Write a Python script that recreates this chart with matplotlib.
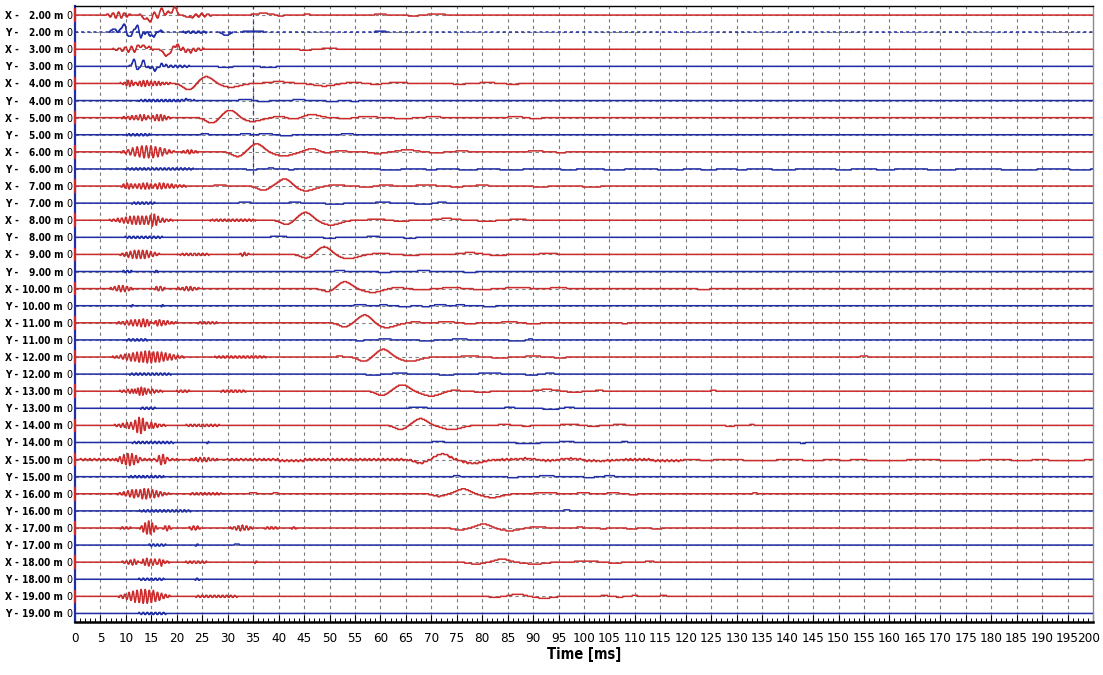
import os
import numpy as np
import matplotlib.pyplot as plt
import matplotlib.transforms as mtransforms
from matplotlib import font_manager
from matplotlib.font_manager import FontProperties
from matplotlib.transforms import blended_transform_factory

T_END = 200.0          # ms
DT = 0.05              # ms
Q = 1 / 17.1           # digitiser step, in trace spacings

offsets = list(range(2, 20))          # receiver distance [m]
components = ['X', 'Y']

# main surface-wave arrival on the X components (time ms, amplitude in trace spacings)
sw_offsets = [4, 5, 6, 7, 8, 9, 10, 11, 12, 13, 14, 15, 16, 17, 18, 19]
sw_lead_t = [22.4, 26.9, 32.0, 37.0, 41.6, 45.5, 49.8, 53.0, 56.8, 60.3, 64.0, 67.9, 71.5, 75.6, 79.0, 82.5]
sw_lead_a = [-0.38, -0.33, -0.28, -0.25, -0.25, -0.22, -0.18, -0.24, -0.26, -0.25, -0.24, -0.20, -0.15, -0.12, -0.05, -0.05]
sw_peak_t = [25.8, 30.5, 35.7, 41.3, 45.3, 49.0, 53.0, 57.0, 60.6, 64.3, 67.9, 72.2, 76.3, 80.3, 83.9, 87.0]
sw_peak_a = [0.40, 0.45, 0.47, 0.43, 0.46, 0.45, 0.40, 0.47, 0.45, 0.38, 0.39, 0.33, 0.28, 0.23, 0.18, 0.13]
sw_tail_t = [30.6, 34.8, 41.0, 45.3, 50.3, 53.7, 58.5, 61.2, 65.8, 70.0, 74.0, 78.3, 82.0, 85.4, 90.0, 92.0]
sw_tail_a = [-0.22, -0.22, -0.24, -0.28, -0.28, -0.25, -0.22, -0.28, -0.26, -0.28, -0.25, -0.22, -0.22, -0.16, -0.05, -0.05]

# high-frequency wave packets: (start ms, end ms, amplitude, period ms)
packets = {
    'X2': [(5, 12, 0.18, 1.1), (11, 22, 0.2, 1.4), (21, 28.5, 0.1, 1.2)],
    'Y2': [(5, 20, 0.08, 0.9), (19, 28, 0.06, 1.0)],
    'X3': [(6, 17, 0.17, 1.2), (16, 27.5, 0.12, 1.0)],
    'Y3': [(6, 27, 0.08, 0.9)],
    'X4': [(6.5, 21, 0.15, 0.75), (8.5, 13.5, 0.1, 0.6)],
    'Y4': [(8, 28, 0.07, 0.8)],
    'X5': [(7, 21, 0.16, 0.8), (12.5, 19.5, 0.12, 0.7)],
    'Y5': [(8, 17, 0.07, 0.8)],
    'X6': [(7.5, 21, 0.35, 0.9), (19.5, 25.5, 0.1, 0.8)],
    'Y6': [(3, 30, 0.06, 0.8)],
    'X7': [(6, 24.5, 0.17, 0.8), (8, 12, 0.1, 0.7), (13.8, 16.5, 0.12, 0.75)],
    'Y7': [(9, 18, 0.07, 0.8)],
    'X8': [(5, 21, 0.25, 0.8), (14, 17.2, 0.15, 0.7), (22, 40, 0.06, 0.8)],
    'Y8': [(6.5, 20.5, 0.07, 0.8)],
    'X9': [(7.5, 18, 0.25, 0.8), (18.5, 28.5, 0.08, 0.8), (31.5, 35, 0.1, 0.8)],
    'Y9': [(8.5, 12, 0.07, 0.8), (15, 16.8, 0.07, 0.8)],
    'X10': [(6, 12.5, 0.18, 0.8), (15, 18.2, 0.15, 0.8), (18.5, 26, 0.1, 0.8)],
    'Y10': [(10.6, 11.9, 0.07, 0.6), (16.5, 17.6, 0.07, 0.6)],
    'X11': [(6, 22, 0.22, 0.8), (13.8, 16.4, 0.2, 0.7), (22, 30, 0.06, 0.8)],
    'Y11': [(8, 16.5, 0.07, 0.8)],
    'X12': [(5.6, 23.3, 0.33, 0.8), (23.3, 41.6, 0.07, 0.8)],
    'Y12': [(7, 22.6, 0.07, 0.8)],
    'X13': [(7, 19, 0.15, 0.8), (10.8, 14.4, 0.35, 0.7), (19, 23.5, 0.08, 0.8), (26.5, 35.7, 0.08, 0.8)],
    'Y13': [(11.5, 17.4, 0.07, 0.8)],
    'X14': [(6, 19.5, 0.22, 0.8), (11, 15, 0.3, 0.7), (19.3, 31, 0.08, 0.8)],
    'Y14': [(7.5, 23, 0.07, 0.8), (25.5, 26.5, 0.06, 0.6)],
    'X15': [(7, 14, 0.35, 0.8), (15.5, 18.8, 0.28, 0.8), (18.8, 31.5, 0.08, 0.8)],
    'Y15': [(7.6, 20.4, 0.07, 0.8)],
    'X16': [(7, 19.7, 0.3, 0.8), (11.5, 14, 0.1, 0.7), (19.7, 31.5, 0.07, 0.8)],
    'Y16': [(8.5, 27, 0.07, 0.8)],
    'X17': [(7.5, 12.2, 0.06, 0.8), (12.2, 16.8, 0.4, 0.7), (16.7, 19.5, 0.15, 0.8), (21.5, 25.5, 0.12, 0.8),
            (29.5, 36, 0.15, 0.8), (36, 41, 0.08, 0.8), (42, 44, 0.06, 0.8)],
    'Y17': [(12.8, 19.3, 0.07, 0.8), (23.2, 24.7, 0.06, 0.7)],
    'X18': [(7.5, 20, 0.22, 0.8), (11.3, 14.3, 0.2, 0.7), (15.8, 17.8, 0.15, 0.7), (20, 27.5, 0.08, 0.8),
            (34.8, 36.2, 0.07, 0.7)],
    'Y18': [(10, 20, 0.07, 0.8), (23, 25.2, 0.06, 0.8)],
    'X19': [(7.2, 20, 0.4, 0.8), (20, 35.5, 0.07, 0.8)],
    'Y19': [(10, 20.5, 0.07, 0.8)],
}

# steady low-level ripple: (start ms, end ms, amplitude, period ms)
flat_noise = {
    'X15': [(0, 120, 0.035, 0.9)],
}

# slow bumps and later arrivals: (centre ms, width ms, amplitude)
humps = {
    'X2': [(14.3, 0.6, -0.33), (17.3, 0.5, 0.25), (19.5, 0.5, 0.42), (22.5, 0.8, -0.12), (37, 1.5, 0.1),
           (40.3, 0.6, -0.06), (45.6, 0.5, 0.06), (60, 0.8, 0.08), (66.5, 1.0, -0.05), (71, 1.2, 0.08)],
    'Y2': [(7.6, 0.4, 0.2), (9.6, 0.45, 0.45), (10.6, 0.35, -0.35), (12.2, 0.35, 0.42), (12.9, 0.35, -0.3),
           (15.3, 0.6, -0.25), (16.5, 0.5, 0.1), (29.7, 0.6, -0.2), (35, 1.5, 0.07), (60, 1.0, 0.05)],
    'X3': [(12.9, 0.4, 0.25), (14.2, 0.4, 0.15), (18.0, 0.6, -0.38), (19.9, 0.5, 0.24), (22.5, 0.8, -0.1),
           (45.3, 0.8, -0.08), (50, 1.2, 0.06)],
    'Y3': [(11.6, 0.35, 0.38), (12.3, 0.3, -0.25), (13.5, 0.35, 0.32), (14.1, 0.3, -0.15), (15.8, 0.5, -0.2),
           (17, 0.5, 0.1), (29.6, 1.0, -0.08), (38, 1.5, -0.05)],
    'X4': [(40, 2.0, 0.1), (49, 2.0, -0.15), (54.5, 1.5, 0.06), (59.2, 1.0, -0.06), (63.5, 1.5, 0.06),
           (75.5, 1.0, -0.06), (81, 1.2, 0.06), (86, 1.0, -0.06)],
    'Y4': [(22, 0.6, 0.06), (33.5, 1.0, 0.07), (37, 1.0, -0.06), (44, 1.0, 0.06), (50.5, 1.0, -0.06),
           (55, 0.6, -0.06)],
    'X5': [(40.3, 1.2, 0.08), (43, 1.2, -0.1), (46.5, 1.5, 0.18), (53.5, 1.5, -0.06), (57, 2.0, 0.06),
           (64.5, 1.5, -0.06), (70.4, 1.2, 0.06), (86.5, 1.2, 0.06), (90.5, 1.0, -0.06)],
    'Y5': [(25.5, 0.6, 0.06), (33.5, 0.8, 0.06), (37.5, 1.0, 0.07), (41.5, 1.0, -0.06), (53.5, 1.0, 0.06)],
    'X6': [(46.5, 1.2, 0.18), (49.5, 1.0, -0.06), (52, 1.2, 0.06), (59.5, 1.3, -0.1), (65.3, 1.5, 0.12),
           (71, 1.2, -0.06), (76, 1.0, 0.06), (90.5, 1.2, 0.06), (95.5, 1.2, -0.04)],
    'X7': [(28.5, 1.0, 0.06), (51.3, 1.2, 0.08), (57.3, 1.2, -0.06), (61, 1.2, 0.06), (69, 1.5, 0.07),
           (75, 1.0, -0.06), (80, 1.0, 0.06), (91.5, 1.2, -0.06), (101.5, 1.5, -0.06)],
    'Y7': [(33.4, 1.0, 0.06), (43.2, 0.8, 0.08), (51, 1.5, -0.06), (60.5, 1.2, 0.06), (68.5, 1.5, -0.06),
           (72, 0.8, 0.06)],
    'X8': [(59.3, 1.5, 0.06), (64, 1.5, -0.05), (73, 1.8, 0.1), (80.9, 1.5, -0.06), (87, 1.5, 0.05)],
    'Y8': [(40, 1.5, 0.05), (50, 1.0, -0.06), (58.6, 1.0, 0.06), (65.8, 1.0, -0.06)],
    'X9': [(60, 1.5, 0.06), (66, 1.5, -0.05), (77.6, 1.8, 0.1), (83, 1.5, -0.06), (93, 1.5, 0.06)],
    'Y9': [(52, 0.8, 0.06), (60.8, 1.0, -0.06), (68.5, 1.0, 0.06), (77.6, 1.0, -0.06)],
    'X10': [(63, 1.5, 0.06), (68, 1.5, -0.06), (74, 1.5, 0.06), (80, 1.5, -0.06), (87, 2.0, 0.06),
            (95, 1.5, 0.05), (123.5, 1.0, -0.06)],
    'Y10': [(56, 1.0, 0.06), (60.6, 0.6, 0.06), (64.8, 1.0, -0.06), (69, 0.7, -0.06), (71.7, 1.0, 0.06),
            (75.7, 0.7, 0.06), (81.5, 1.0, -0.06)],
    'X11': [(66.8, 0.8, 0.06), (73, 1.3, 0.06), (77.6, 1.0, -0.06), (85.4, 1.3, 0.06), (90, 1.2, -0.06),
            (108, 0.5, -0.05)],
    'Y11': [(56, 0.6, -0.06), (60.9, 1.0, 0.06), (69.1, 1.2, -0.06), (75.6, 1.2, 0.06), (87, 1.5, -0.06),
            (89.4, 0.5, 0.06)],
    'X12': [(52, 0.5, 0.06), (77.6, 1.2, 0.08), (83.5, 1.3, -0.06), (90, 1.2, 0.06), (95.3, 1.0, -0.06),
            (155, 0.6, 0.06)],
    'Y12': [(58.6, 1.2, -0.06), (63.8, 1.2, 0.06), (73, 1.2, -0.06), (81.5, 1.8, 0.06), (89.7, 1.0, -0.06),
            (93.3, 0.7, 0.06)],
    'X13': [(74.3, 1.2, 0.06), (80, 1.5, -0.05), (92.7, 1.8, 0.1), (98, 1.3, -0.06), (103, 0.6, 0.06),
            (125.4, 0.5, 0.05)],
    'Y13': [(67.4, 1.5, 0.06), (85.4, 0.8, 0.06), (93.6, 1.4, -0.06), (97, 0.9, 0.06)],
    'X14': [(84.4, 1.0, 0.06), (88.7, 0.8, -0.05), (97.2, 1.5, 0.06), (101.8, 1.0, -0.06), (107, 1.0, 0.06),
            (128.7, 0.7, -0.06), (133, 0.4, 0.05)],
    'Y14': [(71.4, 1.0, 0.06), (89, 2.0, -0.06), (96.6, 1.2, 0.06), (108, 0.5, 0.06), (143, 0.4, -0.06)],
    'X15': [(88.7, 1.5, 0.06), (93, 1.5, -0.06), (97, 1.3, 0.06), (105, 1.2, -0.06)],
    'Y15': [(75, 0.6, 0.05), (86, 1.0, -0.05), (92.7, 1.2, 0.06), (101, 1.0, -0.05), (105, 0.8, 0.06)],
    'X16': [(35, 0.5, 0.08), (39.4, 0.4, 0.06), (92.5, 1.8, 0.06), (99.9, 1.0, 0.06), (105.7, 1.0, 0.06),
            (109.7, 0.8, -0.05), (133.6, 0.4, 0.05)],
    'Y16': [(96.6, 0.5, 0.06)],
    'X17': [(90.7, 1.5, 0.06), (99.2, 0.5, 0.06), (103.8, 0.6, -0.05), (109.4, 1.0, -0.05), (114.3, 0.8, -0.06)],
    'Y17': [(31.8, 0.4, 0.06)],
    'X18': [(78.5, 1.5, -0.06), (90.6, 2.0, -0.06), (100.5, 2.0, 0.06), (106, 1.3, -0.05), (112.9, 0.8, 0.05)],
    'X19': [(92.3, 1.5, -0.06), (104, 0.6, 0.05), (107, 0.6, -0.05), (110, 0.5, 0.05), (115.6, 0.6, 0.05)],
}

steps = {
    'Y6': [(33.7, 35.7, -0.06), (38, 39, 0.06), (42, 43, -0.06), (60, 64, -0.06), (69, 71, -0.06),
           (75.5, 79, -0.06), (83.5, 88, -0.06), (95.5, 98.5, -0.06), (104, 108, -0.06), (114.5, 119.5, -0.06),
           (123, 126, -0.06), (130, 132, -0.06), (137, 141.5, -0.06), (149.5, 152.5, -0.06), (157.5, 161, -0.06),
           (167.5, 173, -0.06), (182, 189, -0.06), (195.5, 199.5, -0.06)],
    'X15': [(40, 45, -0.06), (100, 104, -0.06), (113.5, 119.5, -0.06), (122.8, 125.4, -0.06),
            (131.3, 137.8, -0.06), (143, 147, -0.06), (150.3, 152.3, -0.06), (155.6, 163.4, -0.06),
            (169.9, 177.8, -0.06), (184, 188, -0.06), (191.3, 198.3, -0.06)],
}

RED = '#cc2b2b'
BLUE = '#1f2ea6'
GRID = '#7a7a7a'

# narrow faces, looked up by file name
font_files = {os.path.basename(f.fname): f.fname for f in font_manager.fontManager.ttflist}


def narrow_font(candidates, weight, size):
    for name, scale in candidates:
        if name in font_files:
            return FontProperties(fname=font_files[name], size=size * scale)
    return FontProperties(family='DejaVu Sans', stretch='condensed', weight=weight, size=size * 0.8)


tick_font = narrow_font([('NotoSans-ExtraCondensed.ttf', 1.0), ('LiberationSansNarrow-Regular.ttf', 0.95),
                         ('NotoSans-Condensed.ttf', 0.85), ('DejaVuSansCondensed.ttf', 0.8)], 'normal', 12)
label_font = narrow_font([('LiberationSansNarrow-Bold.ttf', 1.0), ('NotoSans-CondensedBold.ttf', 0.95),
                          ('NotoSans-ExtraCondensedBold.ttf', 1.05), ('DejaVuSansCondensed-Bold.ttf', 0.87)],
                         'bold', 8.3)
zero_font = narrow_font([('LiberationSansNarrow-Regular.ttf', 1.0), ('NotoSans-Condensed.ttf', 0.95),
                         ('DejaVuSansCondensed.ttf', 0.9)], 'normal', 8.5)
title_font = narrow_font([('LiberationSansNarrow-Bold.ttf', 1.0), ('NotoSans-CondensedBold.ttf', 0.95),
                          ('NotoSans-ExtraCondensedBold.ttf', 1.05), ('DejaVuSansCondensed-Bold.ttf', 1.0)],
                         'bold', 10.5)

t = np.arange(0, T_END + DT / 2, DT)


def packet_signal(t0, t1, amp, period, taper=None):
    half = (t1 - t0) / 2 if taper is None else taper
    edge = np.clip(np.minimum(t - t0, t1 - t) / half, 0, 1)
    env = np.sin(np.pi / 2 * edge) ** 2
    return amp * env * np.sin(2 * np.pi * (t - t0) / period)


def trace_signal(key, comp, off):
    s = np.zeros_like(t)
    for p in packets.get(key, []):
        s += packet_signal(*p)
    for p in flat_noise.get(key, []):
        s += packet_signal(*p, taper=1.0)
    for tc, w, a in humps.get(key, []):
        s += a * np.exp(-0.5 * ((t - tc) / w) ** 2)
    for t0, t1, lvl in steps.get(key, []):
        s += lvl * ((t >= t0) & (t <= t1))
    if comp == 'X' and off in sw_offsets:
        j = sw_offsets.index(off)
        s += sw_lead_a[j] * np.exp(-0.5 * ((t - sw_lead_t[j]) / 1.1) ** 2)
        s += sw_peak_a[j] * np.exp(-0.5 * ((t - sw_peak_t[j]) / 1.3) ** 2)
        s += sw_tail_a[j] * np.exp(-0.5 * ((t - sw_tail_t[j]) / 1.8) ** 2)
    return np.round(s / Q) * Q


W, H = 1103, 675
fig = plt.figure(figsize=(W / 100, H / 100), dpi=100)
ax = fig.add_axes([75 / W, 53 / H, 1018 / W, 616 / H])
ax.set_xlim(0, T_END)
ax.set_ylim(-35.5, 0.53)

# 5 ms grid
ax.vlines(np.arange(5, 200, 5), -35.5, 0.53, colors=GRID, linestyles=(0, (3, 3)), lw=0.8, zorder=1)
ax.vlines(35, -9.3, 0.53, colors='#34349a', linestyles=(0, (3, 3)), lw=0.9, zorder=1.5)

label_tf = blended_transform_factory(fig.transFigure, ax.transData)
n = 0
for off in offsets:
    for comp in components:
        key = f'{comp}{off}'
        color = RED if comp == 'X' else BLUE
        s = trace_signal(key, comp, off)
        ax.hlines(-n, 0, T_END, colors='#808080', linestyles=(0, (3, 3)), lw=0.8, zorder=2)
        if key == 'Y2':
            # this channel is drawn with a dotted rest line
            ax.hlines(-n, 0, T_END, colors=color, linestyles=(0, (2, 2)), lw=1.1, zorder=2.5)
            live = np.convolve(np.abs(s) > 1e-9, np.ones(7), 'same') > 0
            ax.plot(t, np.where(live, -n + s, np.nan), color=color, lw=1.1, zorder=3)
        else:
            ax.plot(t, -n + s, color=color, lw=1.1, zorder=3)
        if comp == 'X':
            ax.vlines(0, -n - 0.4, -n + 0.4, colors=RED, lw=1.6, zorder=5, clip_on=False)

        fig.text(5 / W, -n, f'{comp} -', transform=label_tf, ha='left', va='center_baseline',
                 fontproperties=label_font)
        fig.text(63 / W, -n, f'{off:.2f} m', transform=label_tf, ha='right', va='center_baseline',
                 fontproperties=label_font)
        fig.text(72.5 / W, -n, '0', transform=label_tf, ha='right', va='center_baseline',
                 fontproperties=zero_font)
        n += 1

ax.set_yticks([])
ax.set_xticks(np.arange(0, 201, 5))
ax.set_xticks(np.arange(0, 201, 1), minor=True)
ax.tick_params(axis='x', which='major', direction='in', length=5, width=0.8, pad=7)
ax.tick_params(axis='x', which='minor', direction='in', length=3, width=0.7)
ticklabels = ax.get_xticklabels()
for lab in ticklabels:
    lab.set_fontproperties(tick_font)
# keep the last label inside the figure
ticklabels[-1].set_transform(ticklabels[-1].get_transform()
                             + mtransforms.ScaledTranslation(-4 / 100, 0, fig.dpi_scale_trans))
ax.set_xlabel('Time [ms]', fontproperties=title_font, labelpad=2)

ax.spines['bottom'].set_linewidth(1.8)
ax.spines['top'].set_linewidth(1.0)
ax.spines['right'].set_color('#8a8a8a')
ax.spines['right'].set_linewidth(1.0)
ax.spines['left'].set_color(BLUE)
ax.spines['left'].set_linewidth(1.6)

fig.savefig('out.png', dpi=100)
